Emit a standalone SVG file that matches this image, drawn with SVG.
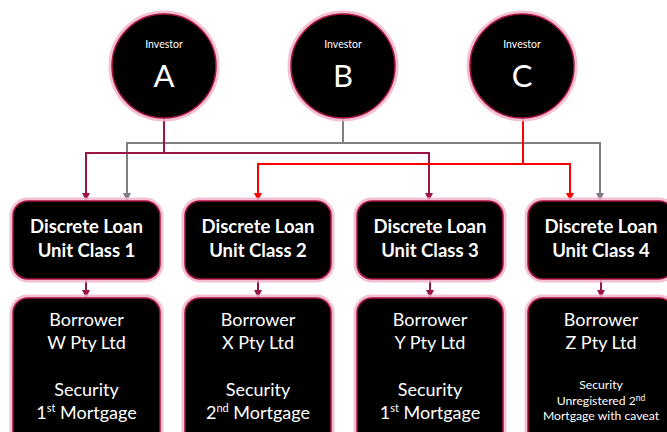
<svg xmlns="http://www.w3.org/2000/svg" width="667" height="432" viewBox="0 0 667 432">
<style>
.glow{fill:none;stroke:#f0b4cc;stroke-width:7;opacity:0.85}
.shape{fill:#000;stroke:#a8123e;stroke-width:1.5}
.t{fill:#fff;font-family:"Lato","Open Sans","Liberation Sans",sans-serif;text-anchor:middle}
.hd{font-weight:bold;font-size:18.5px}
.bd{font-size:18px}
.sm{font-size:12.2px}
.c{fill:none;stroke-width:2}
</style>
<defs>
<marker id="am" markerWidth="8" markerHeight="8" refX="4" refY="7" markerUnits="userSpaceOnUse" viewBox="0 0 8 8"><path d="M0,0 L8,0 L4,8 Z" fill="#9a1446"/></marker>
<marker id="ag" markerWidth="8" markerHeight="8" refX="4" refY="7" markerUnits="userSpaceOnUse" viewBox="0 0 8 8"><path d="M0,0 L8,0 L4,8 Z" fill="#7f7f7f"/></marker>
<marker id="ar" markerWidth="8" markerHeight="8" refX="4" refY="7" markerUnits="userSpaceOnUse" viewBox="0 0 8 8"><path d="M0,0 L8,0 L4,8 Z" fill="#ff0000"/></marker>
</defs>
<g id="connectors">
<path class="c" stroke="#7f7f7f" marker-end="url(#ag)" d="M343,118 V143 H127 V200"/>
<path class="c" stroke="#7f7f7f" marker-end="url(#ag)" d="M343,143 H600 V200"/>
<path class="c" stroke="#9a1446" marker-end="url(#am)" d="M164,118 V153 H86 V200"/>
<path class="c" stroke="#9a1446" marker-end="url(#am)" d="M164,153 H429 V200"/>
<path class="c" stroke="#ff0000" marker-end="url(#ar)" d="M523,118 V164 H258 V200"/>
<path class="c" stroke="#ff0000" marker-end="url(#ar)" d="M523,164 H570 V200"/>
<path class="c" stroke="#9a1446" marker-end="url(#am)" d="M86,279 V297"/>
<path class="c" stroke="#9a1446" marker-end="url(#am)" d="M258,279 V297"/>
<path class="c" stroke="#9a1446" marker-end="url(#am)" d="M430,279 V297"/>
<path class="c" stroke="#9a1446" marker-end="url(#am)" d="M601,279 V297"/>
</g>
<g id="investorA">
<circle class="glow" cx="164" cy="66" r="52"/>
<circle class="shape" cx="164" cy="66" r="52"/>
<text class="t" x="164" y="48" font-size="10.5">Investor</text>
<text class="t" x="164" y="87" font-size="31">A</text>
</g>
<g id="investorB">
<circle class="glow" cx="343" cy="66" r="52"/>
<circle class="shape" cx="343" cy="66" r="52"/>
<text class="t" x="343" y="48" font-size="10.5">Investor</text>
<text class="t" x="343" y="87" font-size="31">B</text>
</g>
<g id="investorC">
<circle class="glow" cx="522" cy="66" r="52"/>
<circle class="shape" cx="522" cy="66" r="52"/>
<text class="t" x="522" y="48" font-size="10.5">Investor</text>
<text class="t" x="522" y="87" font-size="31">C</text>
</g>
<g id="class1">
<rect class="glow" x="13" y="201" width="147" height="78" rx="15"/>
<rect class="shape" x="13" y="201" width="147" height="78" rx="15"/>
<text class="t hd" x="86.5" y="233">Discrete Loan</text>
<text class="t hd" x="86.5" y="257">Unit Class 1</text>
</g>
<g id="class2">
<rect class="glow" x="185" y="201" width="146" height="78" rx="15"/>
<rect class="shape" x="185" y="201" width="146" height="78" rx="15"/>
<text class="t hd" x="258" y="233">Discrete Loan</text>
<text class="t hd" x="258" y="257">Unit Class 2</text>
</g>
<g id="class3">
<rect class="glow" x="357" y="201" width="146" height="78" rx="15"/>
<rect class="shape" x="357" y="201" width="146" height="78" rx="15"/>
<text class="t hd" x="430" y="233">Discrete Loan</text>
<text class="t hd" x="430" y="257">Unit Class 3</text>
</g>
<g id="class4">
<rect class="glow" x="528" y="201" width="146" height="78" rx="15"/>
<rect class="shape" x="528" y="201" width="146" height="78" rx="15"/>
<text class="t hd" x="601" y="233">Discrete Loan</text>
<text class="t hd" x="601" y="257">Unit Class 4</text>
</g>
<g id="borrowerW">
<rect class="glow" x="13" y="298" width="147" height="150" rx="15"/>
<rect class="shape" x="13" y="298" width="147" height="150" rx="15"/>
<text class="t bd" x="86.5" y="326">Borrower</text>
<text class="t bd" x="86.5" y="349">W Pty Ltd</text>
<text class="t bd" x="86.5" y="396">Security</text>
<text class="t bd" x="86.5" y="419">1<tspan font-size="11" dy="-7">st</tspan><tspan dy="7"> Mortgage</tspan></text>
</g>
<g id="borrowerX">
<rect class="glow" x="185" y="298" width="146" height="150" rx="15"/>
<rect class="shape" x="185" y="298" width="146" height="150" rx="15"/>
<text class="t bd" x="258" y="326">Borrower</text>
<text class="t bd" x="258" y="349">X Pty Ltd</text>
<text class="t bd" x="258" y="396">Security</text>
<text class="t bd" x="258" y="419">2<tspan font-size="11" dy="-7">nd</tspan><tspan dy="7"> Mortgage</tspan></text>
</g>
<g id="borrowerY">
<rect class="glow" x="357" y="298" width="146" height="150" rx="15"/>
<rect class="shape" x="357" y="298" width="146" height="150" rx="15"/>
<text class="t bd" x="430" y="326">Borrower</text>
<text class="t bd" x="430" y="349">Y Pty Ltd</text>
<text class="t bd" x="430" y="396">Security</text>
<text class="t bd" x="430" y="419">1<tspan font-size="11" dy="-7">st</tspan><tspan dy="7"> Mortgage</tspan></text>
</g>
<g id="borrowerZ">
<rect class="glow" x="528" y="298" width="146" height="150" rx="15"/>
<rect class="shape" x="528" y="298" width="146" height="150" rx="15"/>
<text class="t bd" x="601" y="326">Borrower</text>
<text class="t bd" x="601" y="349">Z Pty Ltd</text>
<text class="t sm" x="601" y="389">Security</text>
<text class="t sm" x="601" y="405">Unregistered 2<tspan font-size="8.5" dy="-4">nd</tspan></text>
<text class="t sm" x="601" y="420">Mortgage with caveat</text>
</g>
</svg>
